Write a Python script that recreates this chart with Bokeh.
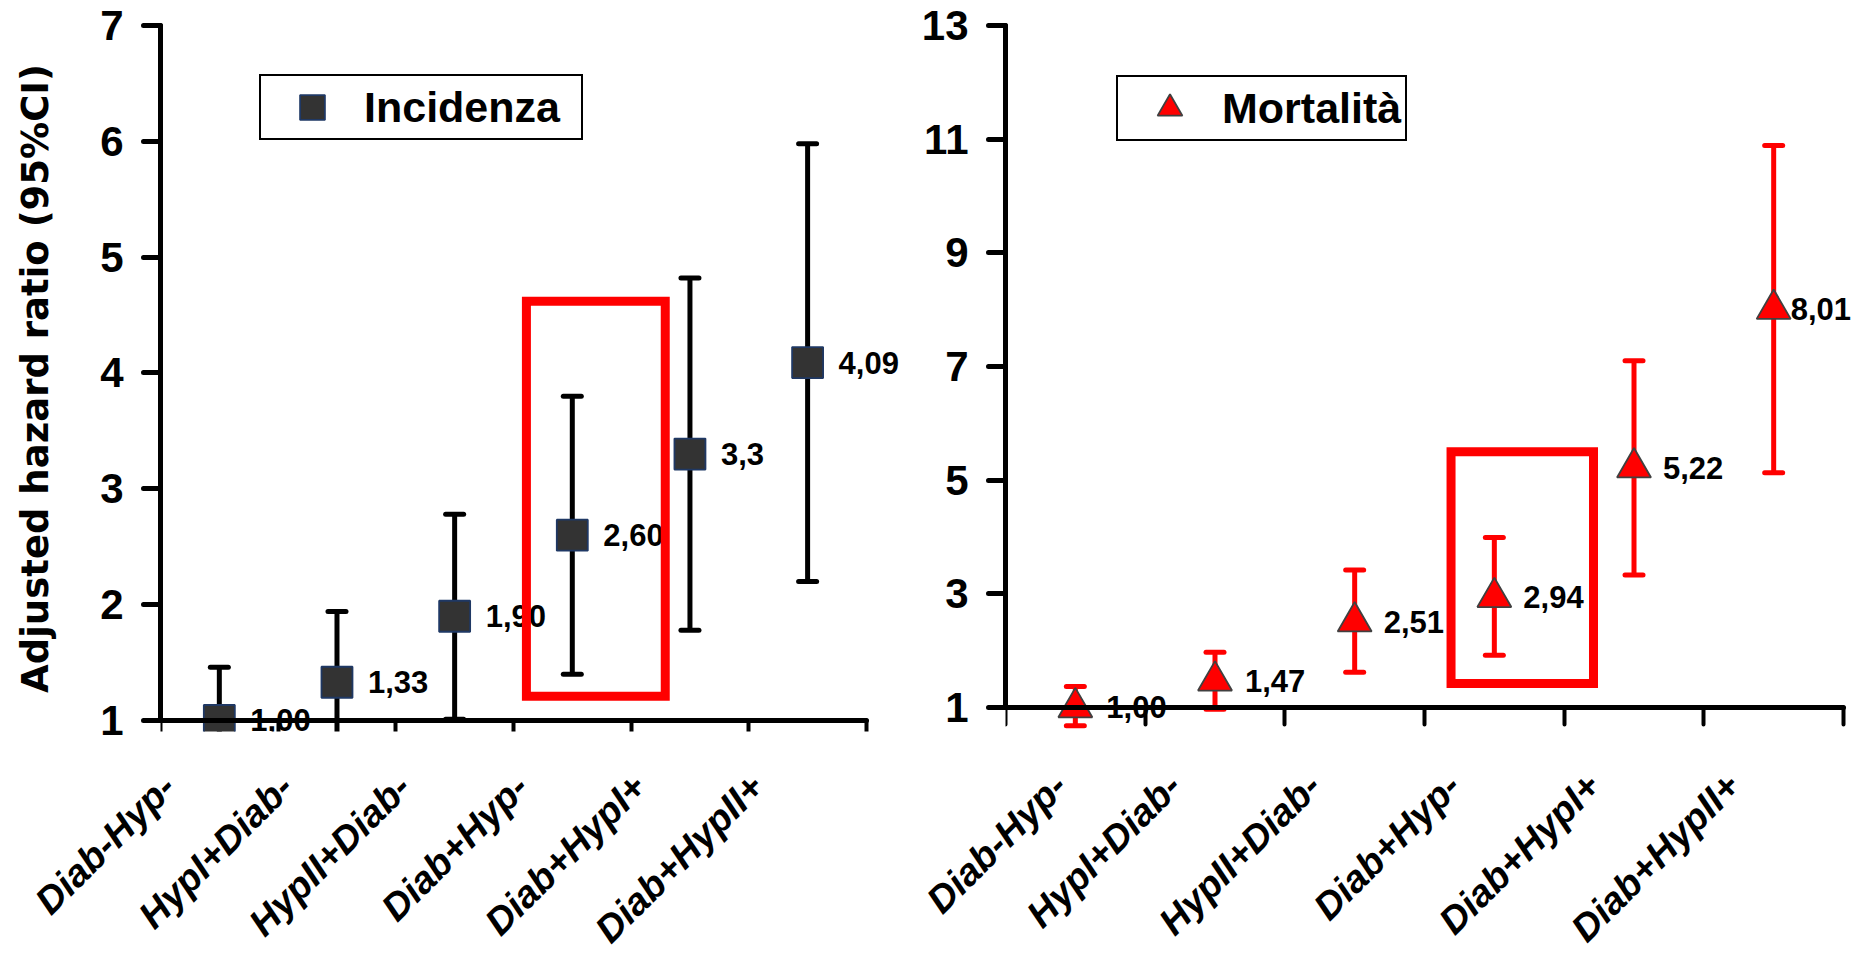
import math
from bokeh.plotting import figure
from bokeh.models import (FixedTicker, ColumnDataSource, Legend, LegendItem, Range1d,
                          LinearAxis)
from bokeh.layouts import row
from bokeh.embed import file_html
from bokeh.resources import INLINE
from bokeh.core.properties import value

# ---------------- data ----------------
categories = ["Diab-Hyp-", "HypI+Diab-", "HypII+Diab-", "Diab+Hyp-", "Diab+HypI+", "Diab+HypII+"]

inc_hr = [1.00, 1.33, 1.90, 2.60, 3.30, 4.09]
inc_low = [0.70, 0.75, 1.01, 1.40, 1.78, 2.20]
inc_high = [1.46, 1.94, 2.78, 3.80, 4.82, 5.98]
inc_labels = ["1,00", "1,33", "1,90", "2,60", "3,3", "4,09"]

mort_hr = [1.00, 1.47, 2.51, 2.94, 5.22, 8.01]
mort_low = [0.68, 0.97, 1.62, 1.92, 3.33, 5.13]
mort_high = [1.37, 1.97, 3.42, 3.99, 7.10, 10.89]
mort_labels = ["1,00", "1,47", "2,51", "2,94", "5,22", "8,01"]

inc_yticks = [1, 2, 3, 4, 5, 6, 7]
mort_yticks = [1, 3, 5, 7, 9, 11, 13]

# highlighted group (Diab+Hyp-) boxes: x in category units, y in HR units
inc_box = dict(left=[3.11], right=[4.29], bottom=[1.21], top=[4.62])
mort_box = dict(left=[3.19], right=[4.21], bottom=[1.42], top=[5.50])

# style: pixel offsets of the value labels
inc_label_dx = [31, 31, 31, 31, 31, 31]
mort_label_dx = [31, 30, 29, 29, 29, 17]

FONT = "Liberation Sans"
centers = [i + 0.5 for i in range(len(categories))]
bounds_ticks = list(range(len(categories) + 1))


def make_panel(hr, low, high, labels, label_dx, yticks, box, color, marker, mfill,
               mline, msize, legend_label, width, height, mb_left, mb_right,
               mb_bottom, xr, yr, legend_loc, legend_gw, legend_lw, lab_shift,
               lab_standoff, ylabel=None):
    p = figure(width=width, height=height, output_backend="svg", toolbar_location=None,
               x_range=Range1d(*xr), y_range=Range1d(*yr),
               min_border_left=mb_left, min_border_right=mb_right,
               min_border_top=25, min_border_bottom=mb_bottom)
    p.outline_line_color = None
    p.grid.visible = False
    p.background_fill_color = "white"

    base = yticks[0]
    src = ColumnDataSource(dict(x=centers, hr=hr, low=low, high=high, lab=labels,
                                dx=label_dx))

    p.segment(x0="x", y0="low", x1="x", y1="high", source=src,
              line_color=color, line_width=5)
    p.scatter(x="x", y="high", source=src, marker="dash", size=18,
              line_color=color, line_width=5, line_cap="round")
    p.scatter(x="x", y="low", source=src, marker="dash", size=18,
              line_color=color, line_width=5, line_cap="round")
    r = p.scatter(x="x", y="hr", source=src, marker=marker, size=msize,
                  fill_color=mfill, line_color=mline, line_width=1.8)
    p.text(x="x", y="hr", text="lab", source=src, x_offset="dx",
           text_baseline="middle", text_align="left",
           text_font=value(FONT), text_font_style="bold",
           text_font_size="31px", text_color="black")
    p.quad(source=ColumnDataSource(box), left="left", right="right",
           bottom="bottom", top="top", fill_alpha=0,
           line_color="#FF0000", line_width=9, line_join="miter")

    # y axis
    ya = p.yaxis[0]
    ya.ticker = FixedTicker(ticks=yticks, minor_ticks=[])
    ya.bounds = (yticks[0], yticks[-1])
    ya.axis_line_width = 5
    ya.axis_line_cap = "round"
    ya.major_tick_line_width = 5
    ya.major_tick_line_cap = "round"
    ya.major_tick_out = 17
    ya.major_tick_in = 0
    ya.major_label_standoff = 20
    ya.major_label_text_font = FONT
    ya.major_label_text_font_style = "bold"
    ya.major_label_text_font_size = "42px"
    ya.major_label_text_color = "black"
    if ylabel:
        ya.axis_label = ylabel
        ya.axis_label_text_font = "DejaVu Sans"
        ya.axis_label_text_font_style = "bold"
        ya.axis_label_text_font_size = "37px"
        ya.axis_label_text_color = "black"
        ya.axis_label_standoff = 40

    # category labels (rotated) on the bottom axis, line and ticks hidden
    lab_ticks = [c - lab_shift for c in centers]
    la = p.xaxis[0]
    la.ticker = FixedTicker(ticks=lab_ticks, minor_ticks=[])
    la.major_label_overrides = {t: n for t, n in zip(lab_ticks, categories)}
    la.major_label_orientation = math.pi / 4
    la.axis_line_color = None
    la.major_tick_line_color = None
    la.minor_tick_line_color = None
    la.major_tick_out = 0
    la.major_tick_in = 0
    la.major_label_standoff = lab_standoff
    la.major_label_text_font = FONT
    la.major_label_text_font_style = "bold italic"
    la.major_label_text_font_size = "38px"
    la.major_label_text_color = "black"

    # x axis line with category-boundary ticks, sitting at HR = 1
    xa = LinearAxis(fixed_location=base,
                    ticker=FixedTicker(ticks=centers, minor_ticks=bounds_ticks),
                    bounds=(0, len(categories)),
                    major_label_overrides={c: "" for c in centers},
                    major_label_text_font_size="1px", major_label_standoff=0,
                    axis_line_width=5, axis_line_cap="round",
                    major_tick_out=0, major_tick_in=0,
                    minor_tick_out=0, minor_tick_in=17,
                    minor_tick_line_width=4, minor_tick_line_color="black",
                    minor_tick_line_cap="round")
    p.add_layout(xa, "above")

    legend = Legend(items=[LegendItem(label=legend_label, renderers=[r])],
                    location=legend_loc, padding=0, margin=0,
                    glyph_width=legend_gw, glyph_height=62, label_standoff=1,
                    label_height=62, label_width=legend_lw, label_text_font=FONT,
                    label_text_font_style="bold", label_text_font_size="43px",
                    label_text_baseline="middle", label_text_color="black",
                    border_line_color="black", border_line_width=2,
                    border_line_alpha=1,
                    background_fill_color="white", background_fill_alpha=1)
    p.add_layout(legend)
    return p


left = make_panel(inc_hr, inc_low, inc_high, inc_labels, inc_label_dx, inc_yticks,
                  inc_box, "black", "square", "#333333", "#1F3864", 31, "Incidenza",
                  width=918, height=970, mb_left=160, mb_right=5, mb_bottom=239,
                  xr=(0, 6.4), yr=(0.905, 7), legend_loc=(99, 591), legend_gw=102,
                  legend_lw=217, lab_shift=0.43, lab_standoff=49,
                  ylabel="Adjusted hazard ratio (95%CI)")

right = make_panel(mort_hr, mort_low, mort_high, mort_labels, mort_label_dx,
                   mort_yticks, mort_box, "#FF0000", "triangle", "#FF0000", "#404040",
                   34, "Mortalità",
                   width=938, height=970, mb_left=85, mb_right=0, mb_bottom=239,
                   xr=(0, 6.093), yr=(0.577, 13), legend_loc=(111, 590),
                   legend_gw=103, legend_lw=183, lab_shift=0.29, lab_standoff=48)

layout = row(left, right)
open("out.html", "w").write(file_html(layout, INLINE))
